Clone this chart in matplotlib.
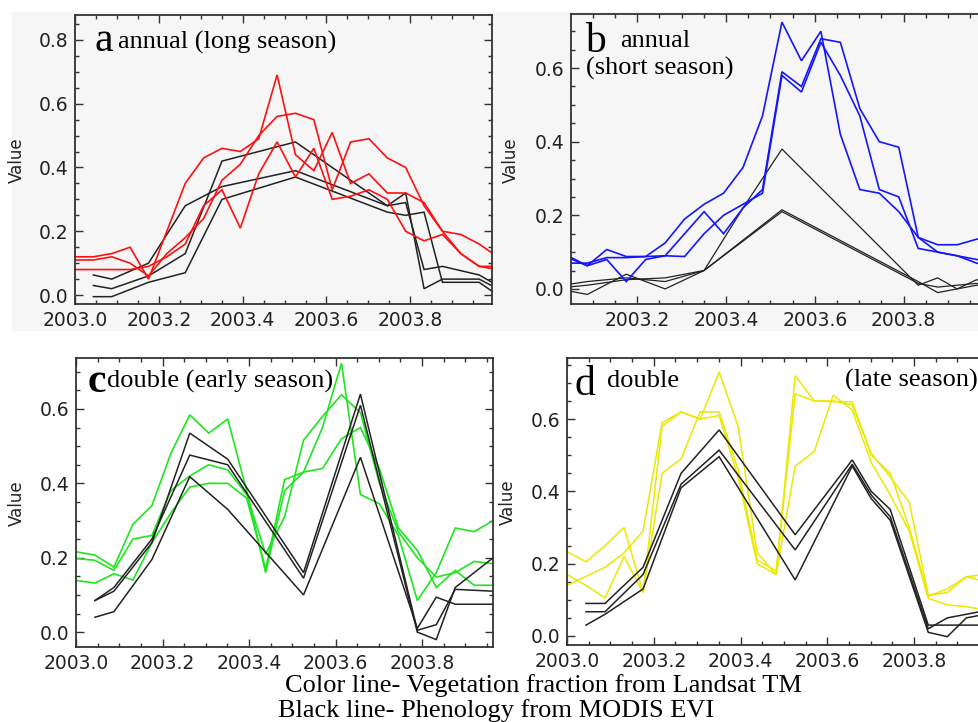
import numpy as np
import matplotlib
matplotlib.use("Agg")
import matplotlib.pyplot as plt
from matplotlib.patches import Rectangle
from matplotlib.ticker import MultipleLocator, FormatStrFormatter

W, H = 979, 722
N = np.nan

# 16-day composite dates through 2003
t = 2003 + 16 * np.arange(24) / 365.0
year_ticks = [2003.0, 2003.2, 2003.4, 2003.6, 2003.8]

# a) annual (long season)
red_a1 = [0.12, 0.12, 0.13, 0.15, 0.05, 0.20, 0.35, 0.43, 0.46, 0.45, 0.49, 0.69,
          0.44, 0.39, 0.51, 0.35, 0.38, 0.32, 0.32, 0.29, 0.20, 0.13, 0.09, 0.09]
red_a2 = [0.11, 0.11, 0.12, 0.10, 0.06, 0.13, 0.18, 0.24, 0.36, 0.41, 0.50, 0.56,
          0.57, 0.55, 0.33, 0.48, 0.49, 0.43, 0.40, 0.28, 0.20, 0.19, 0.16, 0.12]
red_a3 = [0.08, 0.08, 0.08, 0.08, 0.09, 0.12, 0.16, 0.28, 0.33, 0.21, 0.38, 0.48,
          0.37, 0.46, 0.30, 0.31, 0.33, 0.30, 0.20, 0.17, 0.19, 0.13, 0.09, 0.08]
blk_a1 = [N, 0.063, 0.05, N, 0.10, N, 0.28, N, 0.34, N, N, N,
          0.39, N, N, N, N, 0.28, 0.29, 0.08, 0.09, N, 0.063, 0.03]
blk_a2 = [N, 0.03, 0.02, N, 0.06, N, 0.13, N, 0.42, N, N, N,
          0.48, N, N, N, N, 0.28, 0.32, 0.02, 0.05, N, 0.05, 0.02]
blk_a3 = [N, -0.005, -0.005, N, 0.04, N, 0.07, N, 0.30, N, N, N,
          0.37, N, N, N, N, 0.26, 0.25, 0.26, 0.04, N, 0.04, 0.0]

# b) annual (short season)
blu_b1 = [0.09, 0.09, 0.063, 0.107, 0.088, 0.088, 0.125, 0.19, 0.23, 0.26, 0.33, 0.47,
          0.725, 0.62, 0.70, 0.42, 0.27, 0.26, 0.21, 0.14, 0.10, 0.09, 0.07, 0.06]
blu_b2 = [0.085, 0.085, 0.063, 0.08, 0.02, 0.08, 0.09, 0.15, 0.21, 0.15, 0.22, 0.27,
          0.59, 0.55, 0.68, 0.67, 0.49, 0.40, 0.385, 0.14, 0.12, 0.12, 0.135, 0.14]
blu_b3 = [0.07, 0.07, 0.07, 0.085, 0.085, 0.088, 0.09, 0.088, 0.15, 0.20, 0.23, 0.26,
          0.58, 0.535, 0.67, 0.58, 0.47, 0.27, 0.25, 0.11, 0.10, 0.09, 0.08, 0.07]
blk_b1 = [0.005, 0.005, 0.01, N, 0.025, N, 0.03, N, 0.05, N, 0.22, N,
          0.38, N, N, N, N, N, N, 0.01, 0.03, 0.0, 0.025, 0.01]
blk_b2 = [0.015, 0.012, 0.02, N, 0.03, N, 0.02, N, 0.05, N, N, N,
          0.215, N, N, N, N, N, N, 0.02, -0.01, N, 0.01, 0.005]
blk_b3 = [-0.005, -0.005, -0.015, N, 0.04, N, 0.0, N, 0.05, N, N, N,
          0.21, N, N, N, N, N, N, 0.015, 0.005, N, 0.015, 0.0]

# c) double (early season)
grn_c1 = [0.216, 0.207, 0.175, 0.29, 0.34, 0.48, 0.584, 0.535, 0.573, 0.38, 0.16, 0.38,
          0.43, 0.55, 0.723, 0.37, 0.345, 0.26, 0.085, 0.16, 0.28, 0.27, 0.30, N]
grn_c2 = [0.198, 0.193, 0.166, 0.25, 0.26, 0.38, 0.42, 0.45, 0.436, 0.37, 0.21, 0.31,
          0.516, 0.58, 0.638, 0.59, 0.40, 0.27, 0.20, 0.148, 0.16, 0.19, 0.184, N]
grn_c3 = [0.139, 0.132, 0.157, 0.14, 0.24, 0.32, 0.39, 0.40, 0.40, 0.36, 0.17, 0.41,
          0.43, 0.44, 0.52, 0.55, 0.44, 0.28, 0.22, 0.12, 0.166, 0.126, 0.126, N]
blk_c1 = [N, 0.085, 0.11, N, 0.24, N, 0.535, N, 0.465, N, N, N,
          0.16, N, N, 0.64, N, N, 0.005, 0.02, 0.115, N, 0.11, N]
blk_c2 = [N, 0.085, 0.12, N, 0.25, N, 0.476, N, 0.45, N, N, N,
          0.145, N, N, 0.61, N, N, 0.0, -0.02, 0.12, N, 0.20, N]
blk_c3 = [N, 0.04, 0.055, N, 0.195, N, 0.418, N, 0.33, N, N, N,
          0.10, N, N, 0.47, N, N, 0.01, 0.094, 0.075, N, 0.075, N]

# d) double (late season)
yel_d1 = [0.233, 0.205, 0.25, 0.30, 0.12, 0.58, 0.62, 0.60, 0.73, 0.58, 0.23, 0.17,
          0.72, 0.65, 0.648, 0.648, 0.50, 0.45, 0.30, 0.11, 0.13, 0.164, 0.15, 0.15]
yel_d2 = [0.17, 0.14, 0.105, 0.22, 0.12, 0.45, 0.49, 0.62, 0.62, 0.46, 0.21, 0.18,
          0.67, 0.65, 0.65, 0.64, 0.505, 0.44, 0.37, 0.113, 0.12, 0.164, 0.17, 0.17]
yel_d3 = [0.14, 0.165, 0.19, 0.23, 0.29, 0.59, 0.62, 0.60, 0.61, 0.44, 0.20, 0.17,
          0.47, 0.51, 0.666, 0.625, 0.48, 0.39, 0.29, 0.104, 0.086, 0.081, 0.072, 0.07]
blk_d1 = [N, 0.09, 0.09, N, 0.19, N, 0.45, N, 0.57, N, N, N,
          0.28, N, N, 0.487, 0.40, 0.35, N, 0.03, 0.03, N, 0.03, N]
blk_d2 = [N, 0.067, 0.067, N, 0.17, N, 0.42, N, 0.514, N, N, N,
          0.238, N, N, 0.475, 0.39, 0.33, N, 0.02, 0.05, N, 0.07, N]
blk_d3 = [N, 0.03, 0.06, N, 0.13, N, 0.41, N, 0.496, N, N, N,
          0.155, N, N, 0.47, 0.38, 0.32, N, 0.01, -0.002, 0.05, 0.06, N]

serif = "Liberation Serif"
sans = "DejaVu Sans"

fig = plt.figure(figsize=(W / 100, H / 100), dpi=100)
fig.patch.set_facecolor("white")
# light grey scan background behind the top row
fig.add_artist(Rectangle((12 / W, 1 - 330 / H), (W - 12) / W, 318 / H,
                         transform=fig.transFigure, color="#f6f6f6", zorder=0))


def box(l, t_, r, b):
    return [l / W, 1 - b / H, (r - l) / W, (b - t_) / H]


def panel(pos, xlim, ylim, ytick_max, bg):
    ax = fig.add_axes(box(*pos))
    ax.set_facecolor(bg)
    ax.set_xticks(year_ticks)
    ax.xaxis.set_minor_locator(MultipleLocator(0.05))
    ax.set_yticks(np.arange(0, ytick_max + 0.01, 0.2))
    ax.yaxis.set_minor_locator(MultipleLocator(0.05))
    ax.set_xlim(*xlim)
    ax.set_ylim(*ylim)
    ax.xaxis.set_major_formatter(FormatStrFormatter("%.1f"))
    ax.yaxis.set_major_formatter(FormatStrFormatter("%.1f"))
    ax.tick_params(which="both", direction="in", top=True, right=True,
                   color="#333333", width=1.0)
    ax.tick_params(which="major", length=6, labelsize=13.5, pad=5,
                   labelcolor="#222222")
    ax.tick_params(which="minor", length=3)
    for s in ax.spines.values():
        s.set_color("#333333")
        s.set_linewidth(1.3)
    return ax


def draw(ax, vals, color, lw):
    v = np.array(vals, dtype=float)
    m = np.isfinite(v)
    ax.plot(t[m], v[m], color=color, lw=lw, solid_joinstyle="miter")


ax_a = panel((75, 15, 492, 304), (2003.0, 2003.995), (-0.028, 0.878), 0.8, "#f6f6f6")
ax_b = panel((571, 14, 996, 304), (2003.051, 2004.008), (-0.041, 0.747), 0.6, "#f6f6f6")
ax_c = panel((76, 358, 493, 647), (2003.0, 2003.964), (-0.040, 0.737), 0.6, "white")
ax_d = panel((567, 358, 996, 645), (2003.0, 2003.989), (-0.025, 0.769), 0.6, "white")

black = "#222222"
for vals in (blk_a1, blk_a2, blk_a3):
    draw(ax_a, vals, black, 1.1)
for vals in (red_a1, red_a2, red_a3):
    draw(ax_a, vals, "#ff1010", 1.2)

for vals in (blk_b1, blk_b2, blk_b3):
    draw(ax_b, vals, black, 0.9)
for vals in (blu_b1, blu_b2, blu_b3):
    draw(ax_b, vals, "#1515ff", 1.2)

for vals in (grn_c1, grn_c2, grn_c3):
    draw(ax_c, vals, "#1ee61e", 1.2)
for vals in (blk_c1, blk_c2, blk_c3):
    draw(ax_c, vals, black, 1.1)

for vals in (yel_d1, yel_d2, yel_d3):
    draw(ax_d, vals, "#ece800", 1.1)
for vals in (blk_d1, blk_d2, blk_d3):
    draw(ax_d, vals, black, 1.1)

# y labels
for ax, (lx, ly) in ((ax_a, (17, 160)), (ax_b, (511, 160)),
                     (ax_c, (17, 503)), (ax_d, (508, 502))):
    fig.text(lx / W, 1 - ly / H, "Value", rotation=90, ha="center", va="center",
             fontsize=12, family=sans, color="#222222")


def ftext(x, y, s, size, **kw):
    fig.text(x / W, 1 - y / H, s, fontsize=size, family=serif, va="baseline",
             color="black", **kw)


# panel titles
ftext(95, 51, "a", 30)
ftext(118, 49, "annual (long season)", 19)
ftext(585, 52, "b", 30)
ftext(620, 47, "annual", 19)
ftext(586, 75, "(short season)", 19)
ftext(88, 392, "c", 30, weight="bold")
ftext(107, 388, "double (early season)", 19)
ftext(574, 395, "d", 30)
ftext(607, 387, "double", 19)
ftext(845, 387, "(late season)", 19)

# caption
ftext(285, 692, "Color line- Vegetation fraction from Landsat TM", 19)
ftext(278, 717, "Black line- Phenology from MODIS EVI", 19)

fig.savefig("out.png", dpi=100)
